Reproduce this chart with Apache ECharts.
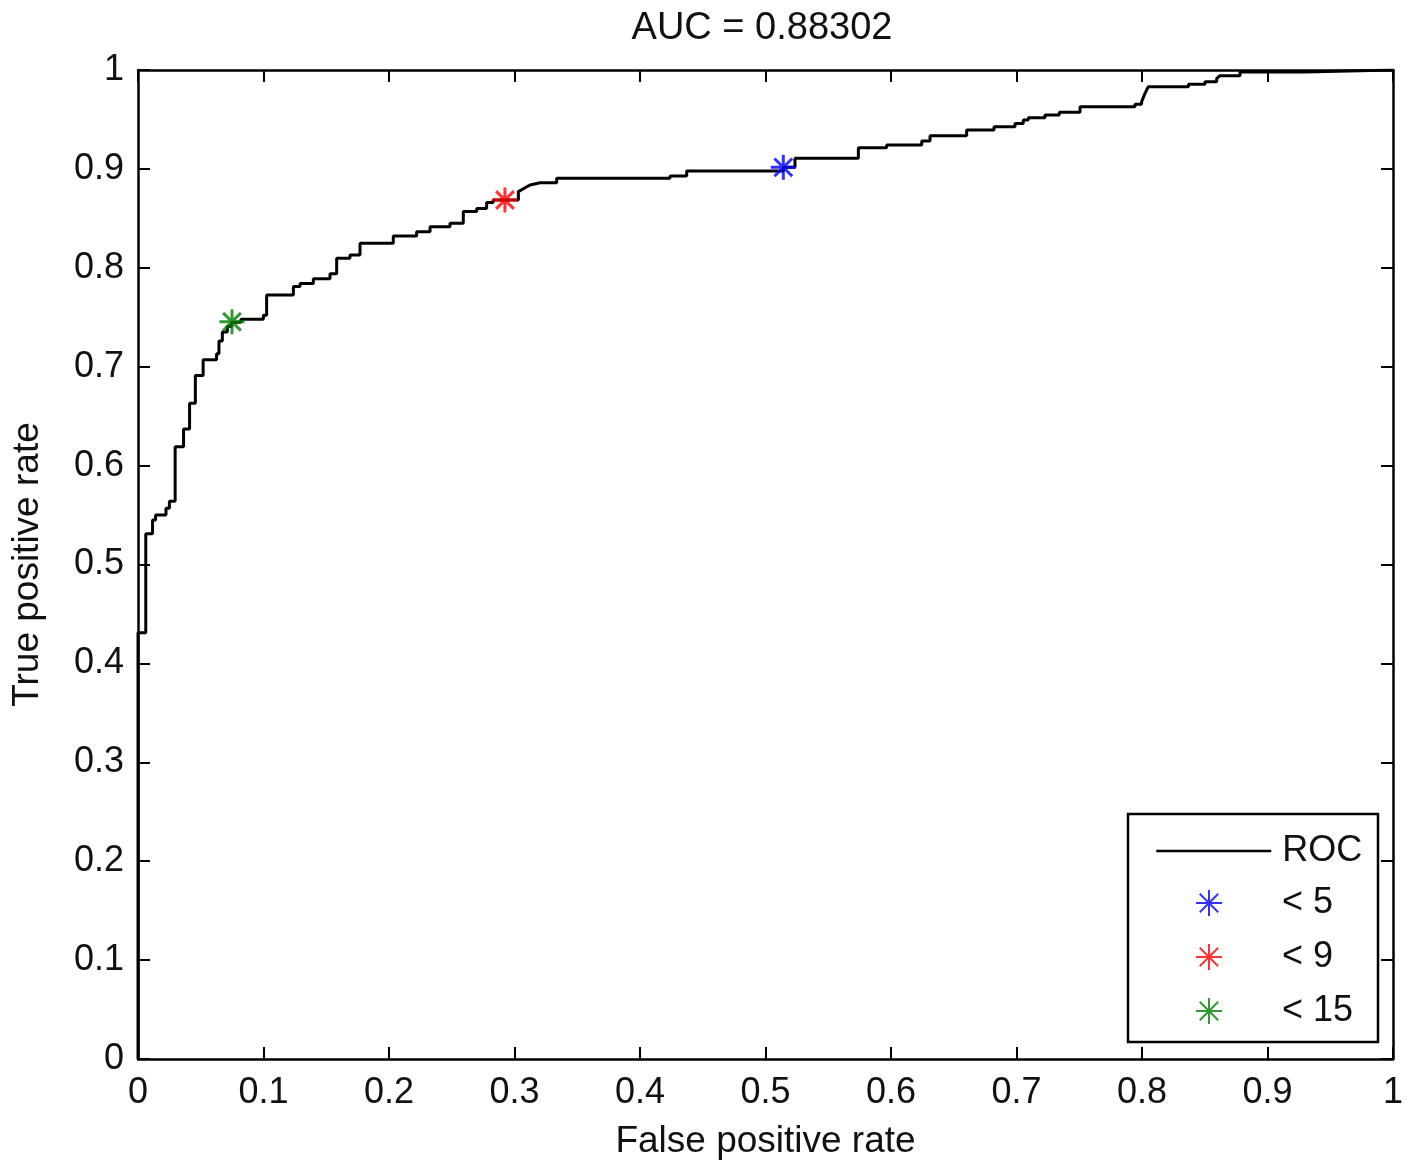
<!DOCTYPE html>
<html>
<head>
<meta charset="utf-8">
<script src="https://cdn.jsdelivr.net/npm/echarts@6/dist/echarts.min.js"></script>
<style>html,body{margin:0;padding:0;background:#fff;overflow:hidden}#c{width:1416px;height:1162px}</style>
</head>
<body>
<div id="c"></div>
<script>
// ROC curve vertices [false positive rate, true positive rate]
const rocPoints = [
  [0,0],[0,0.431],[0.0062,0.431],[0.0062,0.531],[0.0116,0.531],[0.0116,0.545],
  [0.014,0.545],[0.014,0.55],[0.0223,0.55],[0.0223,0.557],[0.025,0.557],[0.025,0.564],
  [0.0296,0.564],[0.0296,0.619],[0.0363,0.619],[0.0363,0.637],[0.0411,0.637],[0.0411,0.663],
  [0.0457,0.663],[0.0457,0.691],[0.0519,0.691],[0.0519,0.707],[0.0626,0.707],[0.0626,0.713],
  [0.0645,0.713],[0.0645,0.726],[0.0672,0.726],[0.0672,0.735],[0.0712,0.735],[0.0712,0.741],
  [0.0745,0.741],[0.0745,0.745],[0.082,0.745],[0.082,0.748],[0.0999,0.748],[0.0999,0.752],
  [0.1025,0.752],[0.1025,0.7725],[0.1238,0.7725],[0.1238,0.781],[0.1291,0.781],[0.1291,0.784],
  [0.1397,0.784],[0.1397,0.789],[0.153,0.789],[0.153,0.794],[0.1583,0.794],[0.1583,0.8096],
  [0.1689,0.8096],[0.1689,0.813],[0.1769,0.813],[0.1769,0.8248],[0.2034,0.8248],[0.2034,0.8322],
  [0.222,0.8322],[0.222,0.8365],[0.2327,0.8365],[0.2327,0.8416],[0.2486,0.8416],[0.2486,0.845],
  [0.2592,0.845],[0.2592,0.8568],[0.2699,0.8568],[0.2699,0.86],[0.2778,0.86],[0.2778,0.866],
  [0.283,0.866],[0.283,0.8686],[0.3031,0.8686],[0.3031,0.877],[0.3071,0.88],[0.3124,0.8837],
  [0.3204,0.886],[0.3336,0.886],[0.3336,0.8905],[0.4239,0.8905],[0.4239,0.8928],[0.4372,0.8928],
  [0.4372,0.8979],[0.5142,0.8979],[0.5142,0.9016],[0.5235,0.9016],[0.5235,0.9107],[0.574,0.9107],
  [0.574,0.9215],[0.5965,0.9215],[0.5965,0.9242],[0.6245,0.9242],[0.6245,0.9282],[0.6311,0.9282],
  [0.6311,0.9336],[0.6603,0.9336],[0.6603,0.9393],[0.6821,0.9393],[0.6821,0.9427],[0.6988,0.9427],
  [0.6988,0.946],[0.7054,0.946],[0.7054,0.9494],[0.7094,0.9494],[0.7094,0.9518],[0.7227,0.9518],
  [0.7227,0.9545],[0.7341,0.9545],[0.7341,0.9572],[0.7506,0.9572],[0.7506,0.9629],[0.7944,0.9629],
  [0.7944,0.9653],[0.7997,0.9653],[0.7997,0.968],[0.8024,0.9764],[0.805,0.9831],[0.837,0.9831],
  [0.837,0.9855],[0.8502,0.9855],[0.8502,0.9882],[0.8595,0.9882],[0.8595,0.9915],[0.8621,0.9942],
  [0.8781,0.9942],[0.8781,0.998],[0.93,0.998],[0.93,1],[1,1]
];

// Threshold operating points
const thrNames = ['< 5', '< 9', '< 15'];
const thrFPR = [0.5142, 0.2924, 0.0749];
const thrTPR = [0.9016, 0.8686, 0.7455];
const thrColors = ['#0000ff', '#ff0000', '#008000'];

const xTicks = { min: 0, max: 1, interval: 0.1 };
const yTicks = { min: 0, max: 1, interval: 0.1 };

const FONT = '"Liberation Sans", Arial, sans-serif';
const TXT = '#111';
const STAR = 'path://M0,-10L0,10M-10,0L10,0M-7.1,-7.1L7.1,7.1M-7.1,7.1L7.1,-7.1';

const tickFmt = v => (Math.abs(v) < 1e-9 ? '0' : Math.abs(v - 1) < 1e-9 ? '1' : v.toFixed(1));

const axisCommon = {
  type: 'value',
  axisLine: { show: true, onZero: false, lineStyle: { color: '#000', width: 2.5 } },
  axisTick: { show: true, inside: true, length: 12, lineStyle: { color: '#000', width: 2 } },
  splitLine: { show: false }
};

const chart = echarts.init(document.getElementById('c'), null, { renderer: 'canvas', width: 1416, height: 1162 });
chart.setOption({
  animation: false,
  backgroundColor: '#fff',
  textStyle: { fontFamily: FONT },
  title: {
    text: 'AUC = 0.88302',
    left: 757, textAlign: 'center', top: 5,
    textStyle: { fontFamily: FONT, fontSize: 38, fontWeight: 'normal', color: TXT }
  },
  grid: { left: 138, top: 70, width: 1255, height: 989, containLabel: false, outerBoundsMode: 'none' },
  xAxis: [
    Object.assign({}, axisCommon, {
      position: 'bottom', min: xTicks.min, max: xTicks.max, interval: xTicks.interval,
      name: 'False positive rate', nameLocation: 'middle', nameGap: 64,
      nameTextStyle: { fontFamily: FONT, fontSize: 37, color: TXT },
      axisLabel: { margin: 16, fontFamily: FONT, fontSize: 36, color: TXT, formatter: tickFmt }
    }),
    Object.assign({}, axisCommon, {
      position: 'top', min: xTicks.min, max: xTicks.max, interval: xTicks.interval,
      axisLabel: { show: false }
    })
  ],
  yAxis: [
    Object.assign({}, axisCommon, {
      position: 'left', min: yTicks.min, max: yTicks.max, interval: yTicks.interval,
      name: 'True positive rate', nameLocation: 'middle', nameGap: 92, nameRotate: 90,
      nameTextStyle: { fontFamily: FONT, fontSize: 37, color: TXT },
      axisLabel: { margin: 14, fontFamily: FONT, fontSize: 36, color: TXT, formatter: tickFmt }
    }),
    Object.assign({}, axisCommon, {
      position: 'right', min: yTicks.min, max: yTicks.max, interval: yTicks.interval,
      axisLabel: { show: false }
    })
  ],
  legend: [
    {
      data: ['ROC'], left: 1150, top: 828, orient: 'vertical',
      itemWidth: 115, itemHeight: 20,
      itemStyle: { opacity: 0 },
      lineStyle: { color: '#000', width: 2.5 },
      textStyle: { fontFamily: FONT, fontSize: 36, color: TXT, padding: [0, 0, 0, 6] }
    },
    {
      data: thrNames, left: 1190, top: 880, orient: 'vertical',
      itemWidth: 26, itemHeight: 26, itemGap: 18,
      textStyle: { fontFamily: FONT, fontSize: 36, lineHeight: 36, color: TXT, padding: [0, 0, 0, 55] }
    }
  ],
  graphic: [{
    type: 'rect', z: 3,
    shape: { x: 1128, y: 814, width: 250, height: 228 },
    style: { fill: '#fff', stroke: '#000', lineWidth: 2.5 }
  }],
  series: [
    {
      name: 'ROC', type: 'line', data: rocPoints,
      showSymbol: false, symbol: 'none',
      lineStyle: { color: '#000', width: 3 },
      itemStyle: { color: '#000' },
      z: 2
    }
  ].concat(thrNames.map((n, i) => ({
    name: n, type: 'scatter',
    data: [[thrFPR[i], thrTPR[i]]],
    symbol: STAR, symbolSize: 25,
    itemStyle: { color: thrColors[i], borderColor: thrColors[i], borderWidth: 3 },
    z: 4
  })))
});
</script>
</body>
</html>
